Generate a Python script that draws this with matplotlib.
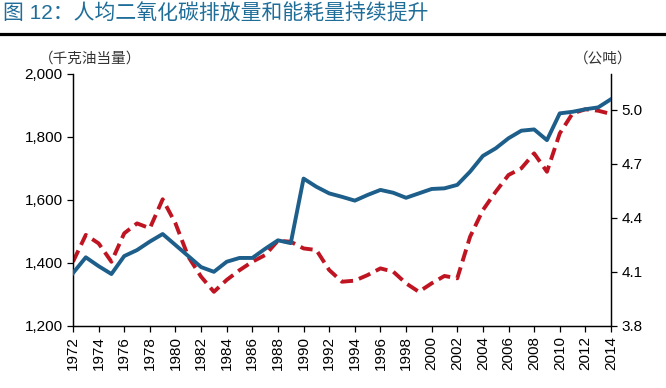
import matplotlib.pyplot as plt

plt.rcParams['font.family'] = ['Liberation Sans', 'Noto Sans CJK SC', 'DejaVu Sans']

years = list(range(1972, 2015))
# 人均能耗（千克油当量）
energy = [1368, 1418, 1390, 1365, 1422, 1441, 1468, 1492, 1457, 1422,
          1387, 1372, 1404, 1416, 1416, 1445, 1472, 1463, 1668, 1642,
          1621, 1610, 1598, 1616, 1632, 1623, 1607, 1621, 1635, 1637,
          1648, 1690, 1740, 1764, 1796, 1820, 1824, 1790, 1875, 1880,
          1888, 1894, 1920]
# 人均二氧化碳排放（公吨）
co2 = [4.157, 4.306, 4.259, 4.157, 4.315, 4.37, 4.343, 4.504, 4.37, 4.185,
       4.074, 3.99, 4.056, 4.11, 4.157, 4.194, 4.274, 4.268, 4.231, 4.222,
       4.111, 4.046, 4.052, 4.083, 4.12, 4.102, 4.037, 3.99, 4.037, 4.078,
       4.065, 4.296, 4.444, 4.546, 4.639, 4.676, 4.759, 4.657, 4.87, 4.981,
       5.004, 4.996, 4.978]

blue = '#1d5f8a'
red = '#bf1421'

fig = plt.figure(figsize=(6.66, 3.88), dpi=100)
ax = fig.add_axes([0.1096, 0.1598, 0.8078, 0.6495])
ax2 = ax.twinx()

ax.plot(years, energy, color=blue, lw=2.8, solid_joinstyle='round', zorder=3)
ax2.plot(years, co2, color=red, lw=2.8, ls=(0, (3.2, 1.6)), dash_capstyle='butt')
ax.set_zorder(ax2.get_zorder() + 1)
ax.patch.set_visible(False)

ax.set_xlim(1972, 2014)
ax.set_ylim(1200, 2000)
ax2.set_ylim(3.8, 5.2)
ax.set_xticks(years[::2])
ax.set_xticklabels([str(y) for y in years[::2]], rotation=90, fontsize=11)
ax.set_yticks([1200, 1400, 1600, 1800, 2000])
ax.set_yticklabels(['1,200', '1,400', '1,600', '1,800', '2,000'], fontsize=11)
ax2.set_yticks([3.8, 4.1, 4.4, 4.7, 5.0])
ax2.set_yticklabels(['3.8', '4.1', '4.4', '4.7', '5.0'], fontsize=11)

for a in (ax, ax2):
    a.spines['top'].set_visible(False)
    for s in ('left', 'right', 'bottom'):
        a.spines[s].set_linewidth(0.9)
    a.tick_params(direction='out', length=4, width=0.9, colors='black')

fig.text(0.005, 0.99, '图 12：人均二氧化碳排放量和能耗量持续提升', fontsize=15,
         color='#1f6d99', fontweight='medium', va='top', ha='left')
fig.add_artist(plt.Line2D([0, 1], [0.912, 0.912], color='black', lw=2.3))
fig.text(0.058, 0.848, '（千克油当量）', fontsize=10.5, color='#333333', va='center')
fig.text(0.862, 0.848, '（公吨）', fontsize=10.5, color='#333333', va='center')

fig.savefig('out.png', dpi=100)
